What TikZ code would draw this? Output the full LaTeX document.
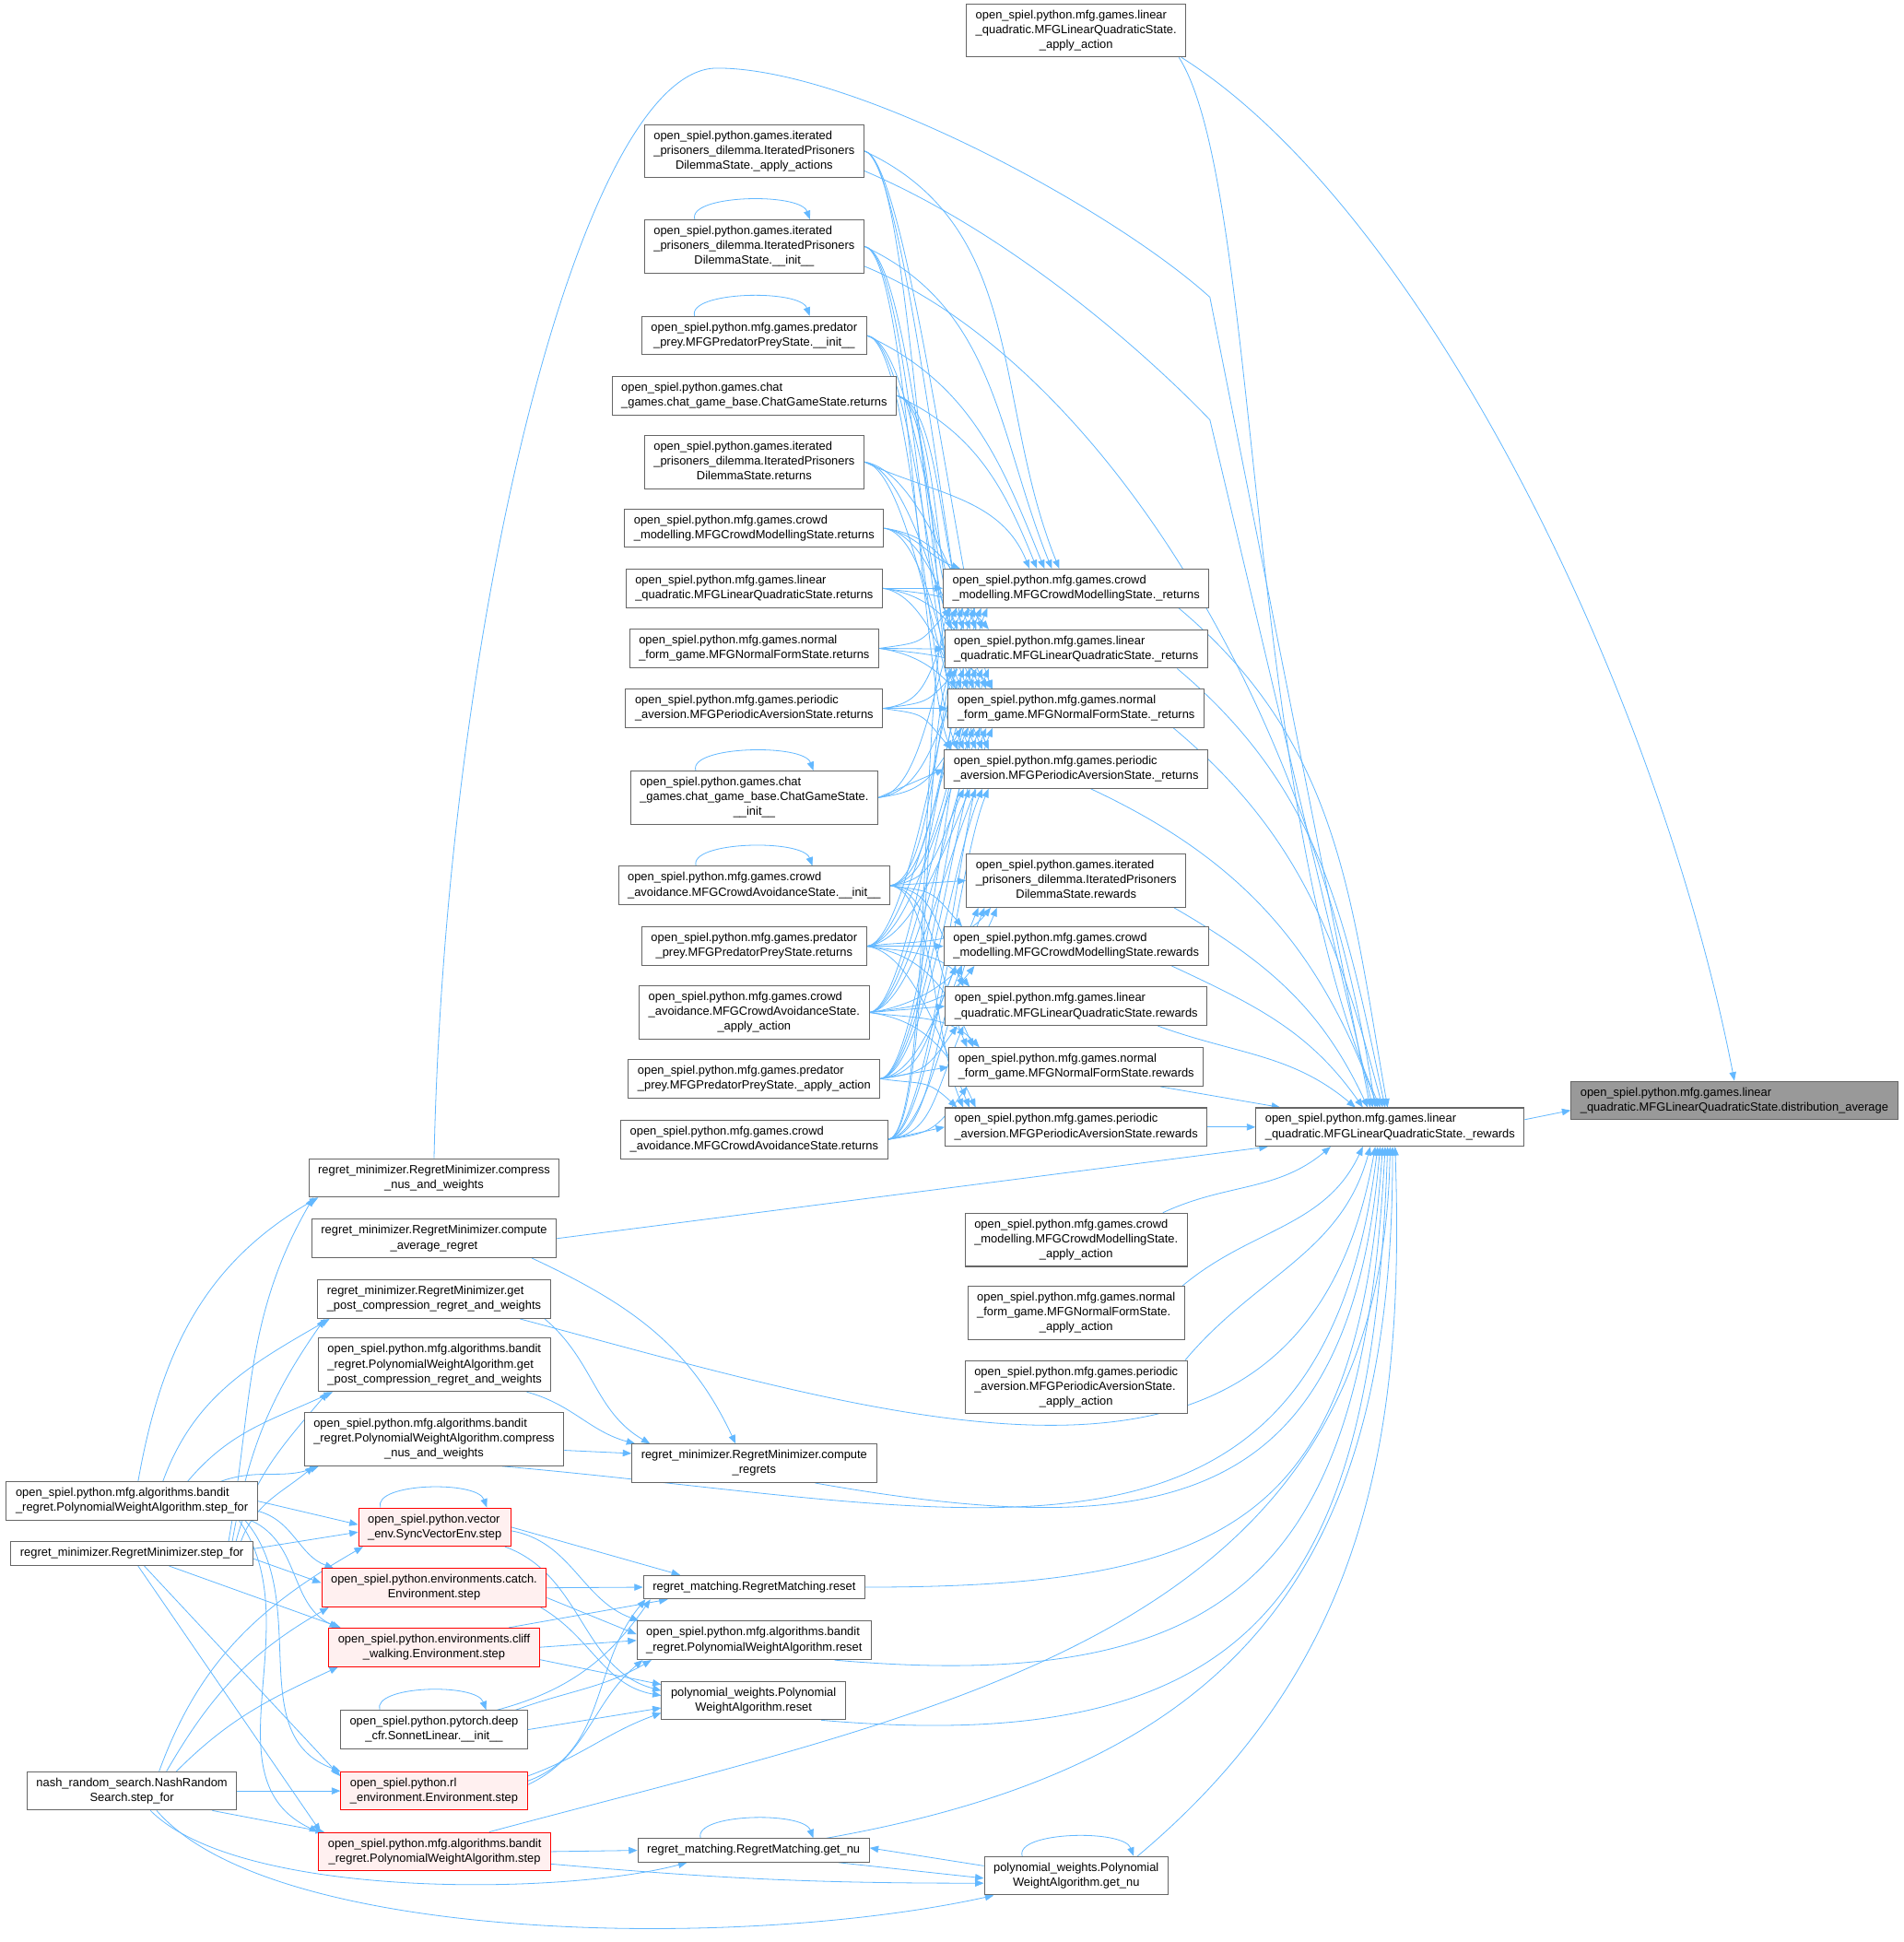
\documentclass[tikz,border=0pt]{standalone}
\usepackage{fontspec}
\setmainfont{Liberation Sans}
\usetikzlibrary{arrows.meta}
\definecolor{callblue}{HTML}{63B8FF}
\definecolor{boxgray}{HTML}{666666}
\definecolor{rootfill}{HTML}{999999}
\definecolor{hotfill}{HTML}{FFF0F0}
\pgfdeclarelayer{back}
\pgfsetlayers{back,main}
\newcommand{\fnl}[2]{\begin{tabular}{@{}l@{}}#1\\\multicolumn{1}{@{}c@{}}{#2}\end{tabular}}
\newcommand{\fno}[1]{\begin{tabular}{@{}c@{}}#1\end{tabular}}
\tikzset{
  fnbox/.style={draw=boxgray, fill=white, line width=0.75pt, inner xsep=7.5pt, inner ysep=3.5pt, font=\fontsize{9.6}{12}\selectfont},
  hotbox/.style={fnbox, draw=red, fill=hotfill},
  rootbox/.style={fnbox, fill=rootfill},
  callarrow/.style={draw=callblue, line width=0.6pt, -{Triangle[length=7pt,width=5.5pt]}},
}
\begin{document}
\begin{tikzpicture}[x=1pt,y=1pt]
\useasboundingbox (0,0) rectangle (1537,-1568);

\node[rootbox] (distavg) at (1400.5,-888.5) {\fnl{open\_spiel.python.mfg.games.linear}{\_quadratic.MFGLinearQuadraticState.distribution\_average}};
\node[fnbox] (rewardsLQ) at (1122.5,-910) {\fnl{open\_spiel.python.mfg.games.linear}{\_quadratic.MFGLinearQuadraticState.\_rewards}};
\node[fnbox] (lqApply) at (869,-24.5) {\fnl{open\_spiel.python.mfg.games.linear\\\_quadratic.MFGLinearQuadraticState.}{\_apply\_action}};

\node[fnbox] (cmRetP) at (869,-475) {\fnl{open\_spiel.python.mfg.games.crowd}{\_modelling.MFGCrowdModellingState.\_returns}};
\node[fnbox] (lqRetP) at (869,-524) {\fnl{open\_spiel.python.mfg.games.linear}{\_quadratic.MFGLinearQuadraticState.\_returns}};
\node[fnbox] (nfRetP) at (869,-572) {\fnl{open\_spiel.python.mfg.games.normal}{\_form\_game.MFGNormalFormState.\_returns}};
\node[fnbox] (paRetP) at (869,-621) {\fnl{open\_spiel.python.mfg.games.periodic}{\_aversion.MFGPeriodicAversionState.\_returns}};
\node[fnbox] (ipdRew) at (869,-711) {\fnl{open\_spiel.python.games.iterated\\\_prisoners\_dilemma.IteratedPrisoners}{DilemmaState.rewards}};
\node[fnbox] (cmRew) at (869,-764) {\fnl{open\_spiel.python.mfg.games.crowd}{\_modelling.MFGCrowdModellingState.rewards}};
\node[fnbox] (lqRew) at (869,-812.5) {\fnl{open\_spiel.python.mfg.games.linear}{\_quadratic.MFGLinearQuadraticState.rewards}};
\node[fnbox] (nfRew) at (869,-861.5) {\fnl{open\_spiel.python.mfg.games.normal}{\_form\_game.MFGNormalFormState.rewards}};
\node[fnbox] (paRew) at (869,-910) {\fnl{open\_spiel.python.mfg.games.periodic}{\_aversion.MFGPeriodicAversionState.rewards}};
\node[fnbox] (cmApply) at (869,-1001) {\fnl{open\_spiel.python.mfg.games.crowd\\\_modelling.MFGCrowdModellingState.}{\_apply\_action}};
\node[fnbox] (nfApply) at (869,-1060) {\fnl{open\_spiel.python.mfg.games.normal\\\_form\_game.MFGNormalFormState.}{\_apply\_action}};
\node[fnbox] (paApply) at (869,-1120) {\fnl{open\_spiel.python.mfg.games.periodic\\\_aversion.MFGPeriodicAversionState.}{\_apply\_action}};

\node[fnbox] (ipdApply) at (609,-122) {\fnl{open\_spiel.python.games.iterated\\\_prisoners\_dilemma.IteratedPrisoners}{DilemmaState.\_apply\_actions}};
\node[fnbox] (ipdInit) at (609,-199) {\fnl{open\_spiel.python.games.iterated\\\_prisoners\_dilemma.IteratedPrisoners}{DilemmaState.\_\_init\_\_}};
\node[fnbox] (ppInit) at (609,-271) {\fnl{open\_spiel.python.mfg.games.predator}{\_prey.MFGPredatorPreyState.\_\_init\_\_}};
\node[fnbox] (chatRet) at (609,-319.5) {\fnl{open\_spiel.python.games.chat}{\_games.chat\_game\_base.ChatGameState.returns}};
\node[fnbox] (ipdRet) at (609,-373) {\fnl{open\_spiel.python.games.iterated\\\_prisoners\_dilemma.IteratedPrisoners}{DilemmaState.returns}};
\node[fnbox] (cmRet) at (609,-426.5) {\fnl{open\_spiel.python.mfg.games.crowd}{\_modelling.MFGCrowdModellingState.returns}};
\node[fnbox] (lqRet) at (609,-475) {\fnl{open\_spiel.python.mfg.games.linear}{\_quadratic.MFGLinearQuadraticState.returns}};
\node[fnbox] (nfRet) at (609,-523.5) {\fnl{open\_spiel.python.mfg.games.normal}{\_form\_game.MFGNormalFormState.returns}};
\node[fnbox] (paRet) at (609,-572) {\fnl{open\_spiel.python.mfg.games.periodic}{\_aversion.MFGPeriodicAversionState.returns}};
\node[fnbox] (chatInit) at (609,-644) {\fnl{open\_spiel.python.games.chat\\\_games.chat\_game\_base.ChatGameState.}{\_\_init\_\_}};
\node[fnbox] (caInit) at (609,-715) {\fnl{open\_spiel.python.mfg.games.crowd}{\_avoidance.MFGCrowdAvoidanceState.\_\_init\_\_}};
\node[fnbox] (ppRet) at (609,-764) {\fnl{open\_spiel.python.mfg.games.predator}{\_prey.MFGPredatorPreyState.returns}};
\node[fnbox] (caApply) at (609,-817.5) {\fnl{open\_spiel.python.mfg.games.crowd\\\_avoidance.MFGCrowdAvoidanceState.}{\_apply\_action}};
\node[fnbox] (ppApply) at (609,-871) {\fnl{open\_spiel.python.mfg.games.predator}{\_prey.MFGPredatorPreyState.\_apply\_action}};
\node[fnbox] (caRet) at (609,-920) {\fnl{open\_spiel.python.mfg.games.crowd}{\_avoidance.MFGCrowdAvoidanceState.returns}};

\node[fnbox] (rmCompress) at (350.5,-951) {\fnl{regret\_minimizer.RegretMinimizer.compress}{\_nus\_and\_weights}};
\node[fnbox] (rmAvg) at (350.5,-1000) {\fnl{regret\_minimizer.RegretMinimizer.compute}{\_average\_regret}};
\node[fnbox] (rmPost) at (350.5,-1049) {\fnl{regret\_minimizer.RegretMinimizer.get}{\_post\_compression\_regret\_and\_weights}};
\node[fnbox] (bdPost) at (351,-1102) {\fnl{open\_spiel.python.mfg.algorithms.bandit\\\_regret.PolynomialWeightAlgorithm.get}{\_post\_compression\_regret\_and\_weights}};
\node[fnbox] (bdCompress) at (350.5,-1162) {\fnl{open\_spiel.python.mfg.algorithms.bandit\\\_regret.PolynomialWeightAlgorithm.compress}{\_nus\_and\_weights}};
\node[fnbox] (regrets) at (609,-1181.5) {\fnl{regret\_minimizer.RegretMinimizer.compute}{\_regrets}};
\node[fnbox] (bdStepFor) at (106.5,-1212) {\fnl{open\_spiel.python.mfg.algorithms.bandit}{\_regret.PolynomialWeightAlgorithm.step\_for}};
\node[fnbox] (rmStepFor) at (106.5,-1254.5) {\fno{regret\_minimizer.RegretMinimizer.step\_for}};
\node[fnbox] (nash) at (106.5,-1446) {\fnl{nash\_random\_search.NashRandom}{Search.step\_for}};
\node[hotbox] (vecStep) at (351,-1233) {\fnl{open\_spiel.python.vector}{\_env.SyncVectorEnv.step}};
\node[hotbox] (catchStep) at (350.5,-1282) {\fnl{open\_spiel.python.environments.catch.}{Environment.step}};
\node[hotbox] (cliffStep) at (350.5,-1330) {\fnl{open\_spiel.python.environments.cliff}{\_walking.Environment.step}};
\node[fnbox] (sonnet) at (350.5,-1396.5) {\fnl{open\_spiel.python.pytorch.deep}{\_cfr.SonnetLinear.\_\_init\_\_}};
\node[hotbox] (rlStep) at (350.5,-1446) {\fnl{open\_spiel.python.rl}{\_environment.Environment.step}};
\node[hotbox] (bdStep) at (351,-1495) {\fnl{open\_spiel.python.mfg.algorithms.bandit}{\_regret.PolynomialWeightAlgorithm.step}};
\node[fnbox] (rmReset) at (609,-1281.5) {\fno{regret\_matching.RegretMatching.reset}};
\node[fnbox] (bdReset) at (609,-1324.5) {\fnl{open\_spiel.python.mfg.algorithms.bandit}{\_regret.PolynomialWeightAlgorithm.reset}};
\node[fnbox] (pwReset) at (608.5,-1373) {\fnl{polynomial\_weights.Polynomial}{WeightAlgorithm.reset}};
\node[fnbox] (rmGetNu) at (608.5,-1494) {\fno{regret\_matching.RegretMatching.get\_nu}};
\node[fnbox] (pwGetNu) at (869,-1514.5) {\fnl{polynomial\_weights.Polynomial}{WeightAlgorithm.get\_nu}};

\begin{pgfonlayer}{back}
\foreach \src/\sy [count=\i] in {ipdApply/122,ipdInit/199,ppInit/271,chatRet/320,ipdRet/373,cmRet/427,lqRet/475,nfRet/524,paRet/572,chatInit/644,caInit/715,ppRet/764,caApply/818,ppApply/871,caRet/920}
  \foreach \dst/\dy in {cmRetP/475,lqRetP/524,nfRetP/572,paRetP/621} {
    \pgfmathtruncatemacro\k{6+5*mod(\i+\dy,7)}
    \pgfmathtruncatemacro\kk{100-6*\i}
    \pgfmathsetmacro\h{min(60,0.6*abs(\dy-\sy))}
    \ifnum\sy<\numexpr\dy-25\relax
      \ifnum\dy=475 \ifnum\sy<400
        \draw[callarrow] (\src.east) to[out=-25,in=112] ([xshift=\kk]\dst.north west);
      \else
        \draw[callarrow] (\src.east) to[out=-10,in=160] ([xshift=14]\dst.north west);
      \fi\else
        \draw[callarrow] (\src.east) .. controls +(35,-5) and +(-25,\h) .. ([xshift=\k]\dst.north west);
      \fi
    \else\ifnum\sy>\numexpr\dy+25\relax
      \draw[callarrow] (\src.east) .. controls +(35,5) and +(-25,-\h) .. ([xshift=\k]\dst.south west);
    \else
      \draw[callarrow] (\src.east) -- (\dst.west);
    \fi\fi
  }
\foreach \src/\sy [count=\i] in {caInit/715,ppRet/764,caApply/818,ppApply/871,caRet/920}
  \foreach \dst/\dy in {ipdRew/711,cmRew/764,lqRew/812,nfRew/862,paRew/910} {
    \pgfmathtruncatemacro\k{10+5*mod(\i,4)}
    \pgfmathsetmacro\h{min(60,0.6*abs(\dy-\sy))}
    \ifnum\sy<\numexpr\dy-25\relax
      \draw[callarrow] (\src.east) .. controls +(35,-5) and +(-25,\h) .. ([xshift=\k]\dst.north west);
    \else\ifnum\sy>\numexpr\dy+25\relax
      \draw[callarrow] (\src.east) .. controls +(35,5) and +(-25,-\h) .. ([xshift=\k]\dst.south west);
    \else
      \draw[callarrow] (\src.east) -- (\dst.west);
    \fi\fi
  }

\draw[callarrow] ([yshift=6]rewardsLQ.east) -- ([yshift=-8]distavg.west);
\draw[callarrow] ([xshift=-4]lqApply.south east) .. controls (1150,-170) and (1340,-560) .. (distavg.north);
\draw[callarrow] ([xshift=-6]lqApply.south east) .. controls (1018,-150) and (1005,-650) .. ([xshift=-8]rewardsLQ.north);
\draw[callarrow] (rmCompress.north) .. controls (360,-500) and (470,-55) .. (579,-55) .. controls (690,-55) and (900,-170) .. (977,-240) -- ([xshift=-16]rewardsLQ.north);
\draw[callarrow] ([yshift=-16]ipdApply.east) .. controls (820,-190) and (930,-290) .. (977,-339) -- ([xshift=-14]rewardsLQ.north);
\draw[callarrow] ([yshift=-16]ipdInit.east) .. controls (880,-290) and (1060,-560) .. ([xshift=-12]rewardsLQ.north);

\draw[callarrow] ([xshift=-25]cmRetP.south east) to[out=-40,in=100] ([xshift=-2]rewardsLQ.north);
\draw[callarrow] ([xshift=-25]lqRetP.south east) to[out=-40,in=102] ([xshift=-4]rewardsLQ.north);
\draw[callarrow] ([xshift=-25]nfRetP.south east) to[out=-40,in=105] ([xshift=-6]rewardsLQ.north);
\draw[callarrow] ([xshift=-95]paRetP.south east) to[out=-25,in=110] ([xshift=-10]rewardsLQ.north);
\draw[callarrow] ([xshift=-10]ipdRew.south east) to[out=-30,in=115] ([xshift=-18]rewardsLQ.north);
\draw[callarrow] ([xshift=-30]cmRew.south east) to[out=-25,in=125] ([xshift=-22]rewardsLQ.north);
\draw[callarrow] ([xshift=-40]lqRew.south east) to[out=-20,in=140] ([xshift=-28]rewardsLQ.north);
\draw[callarrow] ([xshift=-35]nfRew.south east) -- ([xshift=20]rewardsLQ.north west);
\draw[callarrow] (paRew.east) -- (rewardsLQ.west);
\draw[callarrow] ([xshift=-20]cmApply.north east) to[out=25,in=-140] ([xshift=-48]rewardsLQ.south);
\draw[callarrow] ([xshift=-2]nfApply.north east) to[out=40,in=-115] ([xshift=-22]rewardsLQ.south);
\draw[callarrow] ([xshift=-2]paApply.north east) to[out=50,in=-105] ([xshift=-16]rewardsLQ.south);
\draw[callarrow] (rmAvg.east) -- ([xshift=10]rewardsLQ.south west);
\draw[callarrow] ([xshift=-25]rmPost.south east) to[out=-15,in=-100,looseness=1.2] ([xshift=-12]rewardsLQ.south);
\draw[callarrow] ([xshift=-50]bdCompress.south east) to[out=-5,in=-97,looseness=1.3] ([xshift=-10]rewardsLQ.south);
\draw[callarrow] ([xshift=-50]regrets.south east) to[out=-10,in=-95,looseness=1.4] ([xshift=-8]rewardsLQ.south);
\draw[callarrow] (rmReset.east) to[out=0,in=-94,looseness=1.4] ([xshift=-6]rewardsLQ.south);
\draw[callarrow] ([xshift=-30]bdReset.south east) to[out=-5,in=-93,looseness=1.4] ([xshift=-4]rewardsLQ.south);
\draw[callarrow] ([xshift=-20]pwReset.south east) to[out=-5,in=-92,looseness=1.4] ([xshift=-2]rewardsLQ.south);
\draw[callarrow] ([xshift=-50]bdStep.north east) to[out=15,in=-91,looseness=1.1] (rewardsLQ.south);
\draw[callarrow] ([xshift=-35]rmGetNu.north east) to[out=10,in=-90,looseness=1.2] ([xshift=2]rewardsLQ.south);
\draw[callarrow] ([xshift=-25]pwGetNu.north east) to[out=40,in=-88] ([xshift=4]rewardsLQ.south);

\draw[callarrow] ([xshift=-20]rmAvg.south east) to[out=-25,in=115] ([xshift=-15]regrets.north);
\draw[callarrow] ([xshift=-5]rmPost.south east) to[out=-40,in=150] ([xshift=15]regrets.north west);
\draw[callarrow] ([xshift=-20]bdPost.south east) to[out=-15,in=165] ([xshift=3]regrets.north west);
\draw[callarrow] ([yshift=-9]bdCompress.east) -- ([yshift=8]regrets.west);

\draw[callarrow] ([xshift=5]bdStepFor.north) to[out=80,in=-150] ([xshift=8]rmCompress.south west);
\draw[callarrow] ([xshift=25]bdStepFor.north) to[out=70,in=-150] ([xshift=10]rmPost.south west);
\draw[callarrow] ([xshift=45]bdStepFor.north) to[out=50,in=-155] ([xshift=12]bdPost.south west);
\draw[callarrow] ([xshift=-30]bdStepFor.north east) to[out=20,in=-160] ([xshift=12]bdCompress.south west);
\draw[callarrow] (bdStepFor.east) -- ([yshift=2]vecStep.west);
\draw[callarrow] ([yshift=-8]bdStepFor.east) to[out=-15,in=160] ([xshift=10]catchStep.north west);
\draw[callarrow] ([xshift=-5]bdStepFor.south east) to[out=-25,in=155] ([xshift=8]cliffStep.north west);
\draw[callarrow] ([xshift=-10]bdStepFor.south east) to[out=-50,in=160] (rlStep.north west);
\draw[callarrow] ([xshift=-15]bdStepFor.south east) to[out=-55,in=155] (bdStep.north west);

\draw[callarrow] ([xshift=-20]rmStepFor.north east) to[out=80,in=-120] ([xshift=4]rmCompress.south west);
\draw[callarrow] ([xshift=-17]rmStepFor.north east) to[out=80,in=-125] ([xshift=6]rmPost.south west);
\draw[callarrow] ([xshift=-14]rmStepFor.north east) to[out=75,in=-130] ([xshift=8]bdPost.south west);
\draw[callarrow] ([xshift=-10]rmStepFor.north east) to[out=70,in=-140] ([xshift=8]bdCompress.south west);
\draw[callarrow] ([yshift=4]rmStepFor.east) -- ([yshift=-4]vecStep.west);
\draw[callarrow] ([yshift=-4]rmStepFor.east) -- ([yshift=4]catchStep.west);
\draw[callarrow] ([xshift=30]rmStepFor.south) -- ([xshift=10]cliffStep.north west);
\draw[callarrow] ([xshift=10]rmStepFor.south) -- ([yshift=-4]rlStep.north west);
\draw[callarrow] ([xshift=5]rmStepFor.south) -- ([xshift=2]bdStep.north west);

\draw[callarrow] ([xshift=22]nash.north) to[out=70,in=-150] ([xshift=4]vecStep.south west);
\draw[callarrow] ([xshift=28]nash.north) to[out=60,in=-150] ([xshift=6]catchStep.south west);
\draw[callarrow] ([xshift=36]nash.north) to[out=45,in=-155] ([xshift=8]cliffStep.south west);
\draw[callarrow] (nash.east) -- (rlStep.west);
\draw[callarrow] ([xshift=-20]nash.south east) -- ([xshift=5]bdStep.north west);
\draw[callarrow] ([xshift=15]nash.south) to[out=-45,in=-165,looseness=0.6] ([xshift=40]rmGetNu.south west);
\draw[callarrow] ([xshift=20]nash.south) .. controls (220,-1570) and (600,-1575) .. ([xshift=8]pwGetNu.south west);

\draw[callarrow] (vecStep.east) -- ([xshift=30]rmReset.north west);
\draw[callarrow] ([yshift=-3]vecStep.east) to[out=-10,in=160] ([xshift=2]bdReset.north west);
\draw[callarrow] ([xshift=-5]vecStep.south east) to[out=-20,in=165] ([yshift=8]pwReset.west);
\draw[callarrow] (catchStep.east) -- (rmReset.west);
\draw[callarrow] ([yshift=-8]catchStep.east) -- ([yshift=5]bdReset.west);
\draw[callarrow] ([xshift=-5]catchStep.south east) to[out=-30,in=170] ([yshift=4]pwReset.west);
\draw[callarrow] ([xshift=-25]cliffStep.north east) -- ([xshift=20]rmReset.south west);
\draw[callarrow] (cliffStep.east) -- (bdReset.west);
\draw[callarrow] ([yshift=-10]cliffStep.east) -- ([yshift=-3]pwReset.north west);
\draw[callarrow] ([xshift=-25]sonnet.north east) to[out=15,in=-125] ([xshift=6]rmReset.south west);
\draw[callarrow] ([xshift=-10]sonnet.north east) to[out=20,in=-150] ([xshift=12]bdReset.south west);
\draw[callarrow] (sonnet.east) -- ([yshift=-6]pwReset.west);
\draw[callarrow] ([yshift=8]rlStep.east) to[out=20,in=-130] ([xshift=2]rmReset.south west);
\draw[callarrow] ([yshift=5]rlStep.east) to[out=25,in=-140] ([xshift=5]bdReset.south west);
\draw[callarrow] ([yshift=12]rlStep.east) to[out=20,in=-160] ([yshift=-10]pwReset.west);
\draw[callarrow] (bdStep.east) -- (rmGetNu.west);
\draw[callarrow] ([yshift=-10]bdStep.east) to[out=-5,in=180] ([yshift=-6]pwGetNu.west);
\draw[callarrow] ([xshift=-25]rmGetNu.south east) -- ([yshift=-2]pwGetNu.west);
\draw[callarrow] ([yshift=8]pwGetNu.west) -- ([yshift=2]rmGetNu.east);

\draw[callarrow] ([xshift=41]ipdInit.north west) .. controls +(-6,20) and +(-8,22) .. ([xshift=134]ipdInit.north west);
\draw[callarrow] ([xshift=43]ppInit.north west) .. controls +(-6,20) and +(-8,22) .. ([xshift=136]ppInit.north west);
\draw[callarrow] ([xshift=53]chatInit.north west) .. controls +(-6,20) and +(-8,22) .. ([xshift=148]chatInit.north west);
\draw[callarrow] ([xshift=63]caInit.north west) .. controls +(-6,20) and +(-8,22) .. ([xshift=157]caInit.north west);
\draw[callarrow] ([xshift=18]vecStep.north west) .. controls +(-6,20) and +(-8,22) .. ([xshift=104]vecStep.north west);
\draw[callarrow] ([xshift=32]sonnet.north west) .. controls +(-6,20) and +(-8,22) .. ([xshift=118]sonnet.north west);
\draw[callarrow] ([xshift=51]rmGetNu.north west) .. controls +(-6,20) and +(-8,22) .. ([xshift=142]rmGetNu.north west);
\draw[callarrow] ([xshift=31]pwGetNu.north west) .. controls +(-6,20) and +(-8,22) .. ([xshift=121]pwGetNu.north west);
\end{pgfonlayer}
\end{tikzpicture}
\end{document}
